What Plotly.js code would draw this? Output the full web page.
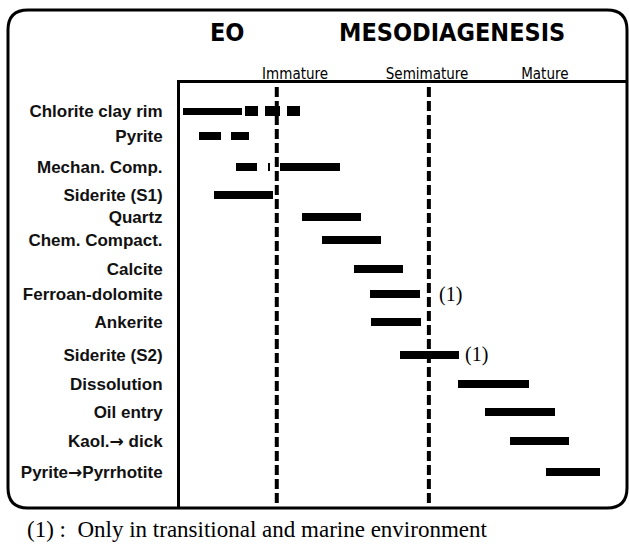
<!DOCTYPE html>
<html>
<head>
<meta charset="utf-8">
<script src="https://cdn.plot.ly/plotly-3.0.1.min.js"></script>
<style>html,body{margin:0;padding:0;background:#fff;}#chart{width:629px;height:545px;}</style>
</head>
<body>
<div id="chart"></div>
<script>
// ---- data ----
const ARROW = '<span style="font-family:DejaVu Sans">\u2192</span>';
const categories = ["Chlorite clay rim", "Pyrite", "Mechan. Comp.", "Siderite (S1)", "Quartz",
  "Chem. Compact.", "Calcite", "Ferroan-dolomite", "Ankerite", "Siderite (S2)",
  "Dissolution", "Oil entry", "Kaol." + ARROW + " dick", "Pyrite" + ARROW + "Pyrrhotite"];
const rowPos = [1, 1.9, 3, 4.0, 4.8, 5.6, 6.65, 7.55, 8.55, 9.7, 10.75, 11.75, 12.8, 13.9];

// segments (relative diagenetic time, 0-100)
const segActivity = [0, 0, 0, 0, 1, 1, 2, 2, 2, 3, 4, 5, 6, 7, 8, 9, 10, 11, 12, 13];
const segStart = [0.7, 14.6, 19.1, 24.0, 4.3, 11.4, 12.6, 19.7, 22.4, 7.6, 27.4, 31.8, 39.0, 42.6, 42.8, 49.3, 62.3, 68.4, 74.0, 82.1];
const segEnd   = [13.9, 17.5, 22.4, 26.9, 9.2, 15.5, 17.3, 20.2, 35.9, 20.9, 40.6, 45.1, 50.0, 53.8, 54.0, 62.6, 78.3, 84.1, 87.2, 94.2];

const stageLabels = ["Immature", "Semimature", "Mature"];
const stagePos = [25.8, 55.4, 81.8];
const boundaryPos = [21.7, 55.8];
const noteRows = [7, 9];          // rows marked (1)
const noteX = [57.6, 63.5];

// ---- styles ----
const thickStyle = [0.25, 0.375, 0.375, 0.375, 0.29, 0.29, 0.29, 0.29, 0.29, 0.29, 0.29, 0.29, 0.29, 0.29, 0.29, 0.29, 0.29, 0.29, 0.29, 0.29];

const L = 180, T = 83, W = 446, H = 425;
const px = v => (v - L) / W;
const py = v => (T + H - v) / H;

const trace = {
  type: "bar", orientation: "h",
  y: segActivity.map(i => rowPos[i]),
  x: segStart.map((s, i) => segEnd[i] - s),
  base: segStart,
  width: thickStyle,
  marker: {color: "#000", line: {width: 0}},
  hoverinfo: "skip", showlegend: false
};

// rounded outer frame
const fx0 = px(8), fx1 = px(627), fy0 = py(508), fy1 = py(10);
const rx = 20 / W, ry = 20 / H;
const framePath = `M ${fx0 + rx} ${fy1} L ${fx1 - rx} ${fy1} Q ${fx1} ${fy1} ${fx1} ${fy1 - ry} ` +
  `L ${fx1} ${fy0 + ry} Q ${fx1} ${fy0} ${fx1 - rx} ${fy0} L ${fx0 + rx} ${fy0} ` +
  `Q ${fx0} ${fy0} ${fx0} ${fy0 + ry} L ${fx0} ${fy1 - ry} Q ${fx0} ${fy1} ${fx0 + rx} ${fy1} Z`;

const shapes = [
  {type: "path", xref: "paper", yref: "paper", path: framePath, line: {color: "#000", width: 3}, layer: "above"}
];
boundaryPos.forEach(b => shapes.push({
  type: "line", xref: "x", yref: "paper", x0: b, x1: b, y0: py(503), y1: 1,
  line: {color: "#000", width: 4, dash: "10px,4px"}, layer: "above"
}));

const titleFont = {family: "DejaVu Sans Condensed", size: 25, color: "#000", weight: "bold"};
const annotations = [
  {text: "EO", xref: "x", yref: "paper", x: 10.6, y: py(33), xanchor: "center", yanchor: "middle",
   showarrow: false, font: titleFont},
  {text: "MESODIAGENESIS", xref: "x", yref: "paper", x: 60.9, y: py(33), xanchor: "center", yanchor: "middle",
   showarrow: false, font: titleFont},
  {text: "(1) :  Only in transitional and marine environment", xref: "paper", yref: "paper",
   x: px(25), y: py(529), xanchor: "left", yanchor: "middle", showarrow: false,
   font: {family: "Liberation Serif", size: 23, color: "#000"}}
];
noteRows.forEach((r, i) => annotations.push({
  text: "(1)", xref: "x", yref: "y", x: noteX[i], y: rowPos[r], xanchor: "left", yanchor: "middle",
  showarrow: false, font: {family: "Liberation Serif", size: 20, color: "#000"}
}));

const layout = {
  width: 629, height: 545,
  margin: {l: L, r: 629 - L - W, t: T, b: 545 - T - H},
  paper_bgcolor: "#fff", plot_bgcolor: "#fff",
  bargap: 0,
  xaxis: {range: [0, 100], side: "top", tickvals: stagePos, ticktext: stageLabels,
    ticks: "", showgrid: false, zeroline: false, showline: true, linewidth: 3, linecolor: "#000",
    ticklabelstandoff: -5,
    tickfont: {family: "DejaVu Sans Condensed", size: 15, color: "#000"}, fixedrange: true},
  yaxis: {range: [H / 28, 0], tickvals: rowPos, ticktext: categories,
    ticks: "", showgrid: false, zeroline: false, showline: true, linewidth: 3, linecolor: "#000",
    ticklabelstandoff: 11,
    tickfont: {family: "Liberation Sans", size: 17, color: "#111", weight: "bold"}, fixedrange: true},
  shapes: shapes,
  annotations: annotations
};

Plotly.newPlot("chart", [trace], layout, {displayModeBar: false, staticPlot: true});
</script>
</body>
</html>
